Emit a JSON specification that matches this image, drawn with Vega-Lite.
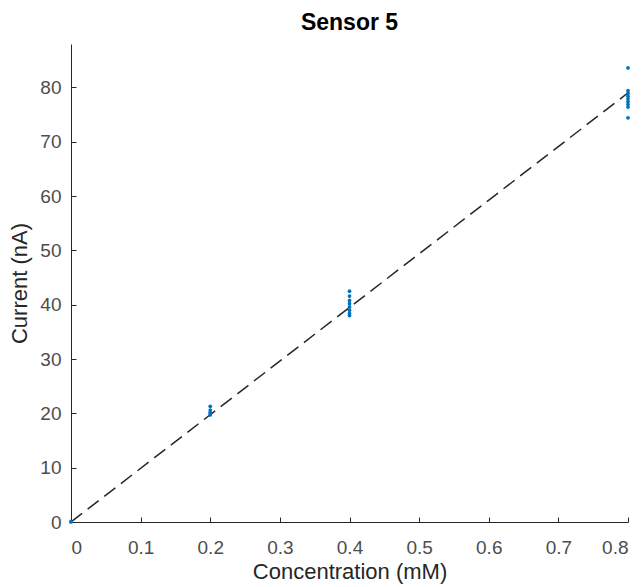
{
  "$schema": "https://vega.github.io/schema/vega-lite/v6.json",
  "width": 557,
  "height": 478,
  "autosize": {"type": "none"},
  "padding": {"left": 71, "top": 44, "right": 15, "bottom": 65},
  "background": "white",
  "title": {
    "text": "Sensor 5",
    "font": "Liberation Sans",
    "fontSize": 23,
    "fontWeight": "bold",
    "color": "#000000",
    "offset": 9
  },
  "config": {
    "view": {"stroke": null},
    "axis": {
      "domainColor": "#262626",
      "domainWidth": 1,
      "tickColor": "#262626",
      "tickSize": -5,
      "grid": false,
      "labelFont": "Liberation Sans",
      "labelFontSize": 19,
      "labelColor": "#4d4d4d",
      "titleFont": "Liberation Sans",
      "titleFontSize": 22,
      "titleFontWeight": "normal",
      "titleColor": "#262626"
    }
  },
  "datasets": {
    "measurements": [
      {"conc": 0, "current": 0},
      {"conc": 0, "current": 0.1},
      {"conc": 0.2, "current": 21.3},
      {"conc": 0.2, "current": 20.6},
      {"conc": 0.2, "current": 20.2},
      {"conc": 0.2, "current": 19.9},
      {"conc": 0.2, "current": 19.7},
      {"conc": 0.4, "current": 42.5},
      {"conc": 0.4, "current": 41.6},
      {"conc": 0.4, "current": 40.8},
      {"conc": 0.4, "current": 40.2},
      {"conc": 0.4, "current": 39.6},
      {"conc": 0.4, "current": 39.0},
      {"conc": 0.4, "current": 38.4},
      {"conc": 0.4, "current": 38.0},
      {"conc": 0.8, "current": 83.6},
      {"conc": 0.8, "current": 79.4},
      {"conc": 0.8, "current": 78.9},
      {"conc": 0.8, "current": 78.4},
      {"conc": 0.8, "current": 77.9},
      {"conc": 0.8, "current": 77.4},
      {"conc": 0.8, "current": 76.9},
      {"conc": 0.8, "current": 76.4},
      {"conc": 0.8, "current": 74.4}
    ],
    "fit": [
      {"conc": 0, "current": 0},
      {"conc": 0.8, "current": 79.0}
    ]
  },
  "layer": [
    {
      "data": {"name": "fit"},
      "mark": {"type": "line", "color": "#262626", "strokeWidth": 1.5, "strokeDash": [14, 7], "clip": true},
      "encoding": {
        "x": {
          "field": "conc",
          "type": "quantitative",
          "scale": {"domain": [0, 0.8], "nice": false, "zero": false},
          "axis": {"title": "Concentration (mM)", "values": [0, 0.1, 0.2, 0.3, 0.4, 0.5, 0.6, 0.7, 0.8], "format": "~g", "labelPadding": 21, "titlePadding": 4}
        },
        "y": {
          "field": "current",
          "type": "quantitative",
          "scale": {"domain": [0, 88], "nice": false},
          "axis": {"title": "Current (nA)", "values": [0, 10, 20, 30, 40, 50, 60, 70, 80], "labelPadding": 15, "titlePadding": 8}
        }
      }
    },
    {
      "data": {"name": "measurements"},
      "mark": {"type": "circle", "color": "#0072BD", "size": 14, "opacity": 1},
      "encoding": {
        "x": {"field": "conc", "type": "quantitative"},
        "y": {"field": "current", "type": "quantitative"}
      }
    }
  ]
}
